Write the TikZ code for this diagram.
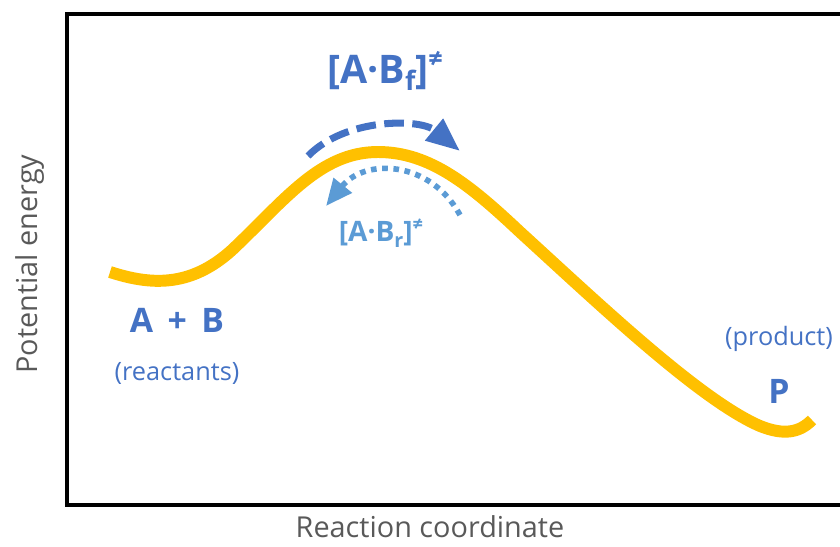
\documentclass[tikz,border=0pt]{standalone}
\usepackage{fontspec}
\setmainfont{Open Sans}
\usetikzlibrary{arrows.meta,positioning}
\definecolor{darkblue}{HTML}{4472C4}
\definecolor{lightblue}{HTML}{5B9BD5}
\definecolor{gold}{HTML}{FFC000}
\definecolor{axisgray}{HTML}{595959}

\begin{document}
\begin{tikzpicture}[
        x=0.025cm, y=-0.025cm,
        axislabel/.style={text=axisgray, font=\fontsize{20.5}{24}\selectfont},
        species/.style={text=darkblue, font=\bfseries\fontsize{24}{28}\selectfont},
        note/.style={text=darkblue, font=\fontsize{18}{21}\selectfont},
        forward/.style={draw=darkblue, line width=5pt, dash pattern=on 14pt off 6pt,
            -{Triangle[length=24pt, width=19pt]}},
        reverse/.style={draw=lightblue, line width=4pt, dash pattern=on 4pt off 4pt,
            -{Triangle[length=19pt, width=16pt]}},
    ]
        \useasboundingbox (0,0) rectangle (840,546);

        % frame
        \coordinate (topright) at (840,14);
        \coordinate (origin) at (67,505);
        \coordinate (botright) at (840,505);
        \draw [line width=2.9pt] (topright) -- (67,14) -- (origin) -- (botright);

        % energy profile
        \coordinate (react) at (110,272);
        \coordinate (peak) at (378,152);
        \coordinate (prod) at (812,420);
        \draw [gold, line width=8.5pt] (react)
            .. controls (150,285) and (190,288) .. (232,250)
            .. controls (285,200) and (320,152) .. (peak)
            .. controls (430,152) and (470,185) .. (520,232)
            .. controls (600,305) and (700,400) .. (760,426)
            .. controls (785,436) and (800,432) .. (prod);

        % transition state arrows
        \coordinate (fstart) at (308,156);
        \coordinate (fend) at (460,151);
        \coordinate (rstart) at (460,215);
        \coordinate (rend) at (326,206);
        \draw [forward] (fstart) .. controls (345,118) and (420,118) .. (fend);
        \draw [reverse] (rstart) .. controls (430,160) and (365,158) .. (rend);

        % labels
        \node (tsf) [species, font=\bfseries\fontsize{28}{32}\selectfont] at (385,71)
            {[A·B\raisebox{-0.35ex}{\fontsize{19}{22}\selectfont f}]\raisebox{0.75ex}{\fontsize{18}{20}\selectfont ≠}};
        \node (tsr) [species, text=lightblue, font=\bfseries\fontsize{20}{24}\selectfont] at (381,233)
            {[A·B\raisebox{-0.35ex}{\fontsize{14}{16}\selectfont r}]\raisebox{0.75ex}{\fontsize{13}{15}\selectfont ≠}};
        \node (ab) [species] at (177,320) {A\ \,+\ \,B};
        \node (reactants) [note, below=0.5cm of ab] {(reactants)};
        \node (product) [note] at (779,339) {(product)};
        \node (p) [species, below=0.45cm of product] {P};
        \node (ylabel) [axislabel, rotate=90] at (30,264) {Potential energy};
        \node (xlabel) [axislabel] at (430,527) {Reaction coordinate};
    \end{tikzpicture}
\end{document}
